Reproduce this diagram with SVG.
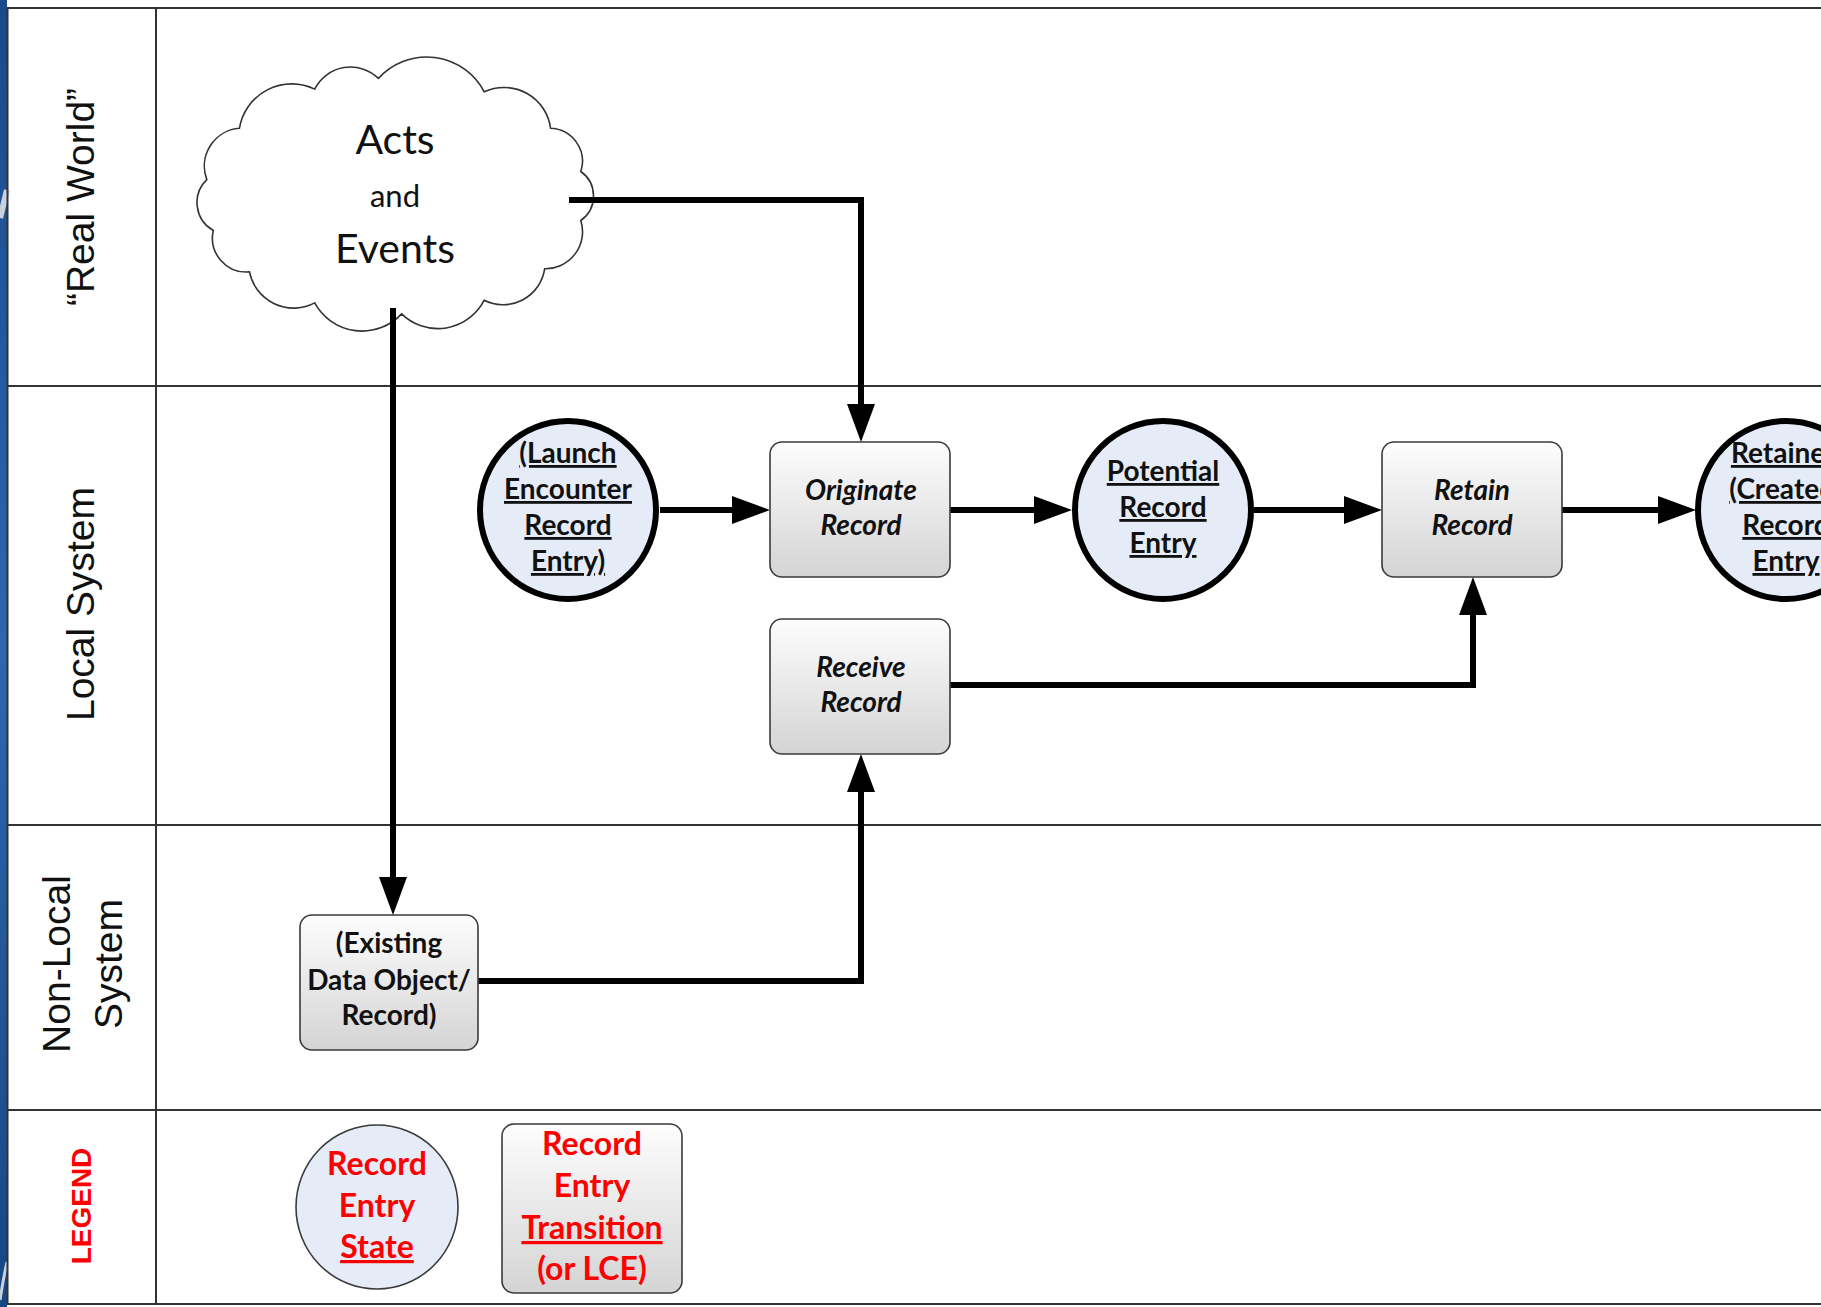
<svg xmlns="http://www.w3.org/2000/svg" width="1821" height="1307" viewBox="0 0 1821 1307">
<style>
.lane{fill:none;stroke:#333;stroke-width:2}
.lbl{font-family:"Liberation Sans",Arial,sans-serif;font-size:39px;fill:#111;text-anchor:middle}
.leg{font-family:"Liberation Sans",Arial,sans-serif;font-size:28px;font-weight:bold;fill:#ff0000;text-anchor:middle}
.box{fill:url(#boxg);stroke:#3a3a3a;stroke-width:1.6}
.st{fill:#e5ecf8;stroke:#000;stroke-width:6}
.t{font-family:Lato,"Open Sans",sans-serif;font-size:28px;font-weight:bold;fill:#111;text-anchor:middle}
.i{font-style:italic}
.u{text-decoration:underline}
.r{font-size:32px;fill:#ff0000}
.cl{font-family:Lato,"Open Sans",sans-serif;fill:#111;text-anchor:middle}
.cn{fill:none;stroke:#000;stroke-width:6;stroke-linejoin:miter}
</style>
<defs>
<linearGradient id="boxg" x1="0" y1="0" x2="0" y2="1">
<stop offset="0" stop-color="#fdfdfd"/>
<stop offset="1" stop-color="#d4d4d4"/>
</linearGradient>
<linearGradient id="blue" x1="0" y1="0" x2="0" y2="1">
<stop offset="0" stop-color="#184a8c"/>
<stop offset="0.5" stop-color="#2f66ad"/>
<stop offset="1" stop-color="#164785"/>
</linearGradient>
<marker id="ah" markerUnits="userSpaceOnUse" markerWidth="40" markerHeight="30" refX="8" refY="14" orient="auto">
<path d="M0,0 L38,14 L0,28 Z" fill="#000"/>
</marker>
</defs>
<rect x="0" y="0" width="1821" height="1307" fill="#fff"/>
<rect x="0" y="0" width="7" height="1307" fill="url(#blue)"/>
<path d="M0,218 L7,190" stroke="#c9d1dc" stroke-width="6"/>
<path d="M0,1300 Q3,1280 7,1262" stroke="#c9d1dc" stroke-width="3" fill="none"/>

<g id="lanes">
<path class="lane" d="M7.5,8 V1304 M7,8 H1821 M7,386 H1821 M7,825 H1821 M7,1110 H1821 M7,1304 H1821 M156,8 V1304"/>
<text class="lbl" transform="translate(94,197) rotate(-90)">“Real World”</text>
<text class="lbl" transform="translate(94,604) rotate(-90)">Local System</text>
<text class="lbl" transform="translate(70,964) rotate(-90)">Non-Local</text>
<text class="lbl" transform="translate(122,964) rotate(-90)">System</text>
<text class="leg" transform="translate(91,1206) rotate(-90)">LEGEND</text>
</g>

<g id="cloud">
<path d="M378.4,78.4 A65,65 0 0 1 484.2,91.8 A47,47 0 0 1 550.6,128.3 A33,33 0 0 1 580.8,171.5 A30,30 0 0 1 580.8,220.5 A37,37 0 0 1 544.7,268.7 A42,42 0 0 1 484.2,300.2 A52,52 0 0 1 401.6,313.9 A54,54 0 0 1 314.7,302.9 A45,45 0 0 1 249.5,271.9 A34,34 0 0 1 213.3,230.5 A32,32 0 0 1 206.8,179.6 A38,38 0 0 1 239.4,128.3 A53,53 0 0 1 314.7,89.1 A40,40 0 0 1 378.4,78.4 Z" fill="#fff" stroke="#333" stroke-width="1.6"/>
<text class="cl" x="395" y="154" font-size="41">Acts</text>
<text class="cl" x="395" y="207" font-size="31">and</text>
<text class="cl" x="395" y="263" font-size="41">Events</text>
</g>

<g id="connectors">
<path class="cn" d="M569,200 H861 V412" marker-end="url(#ah)"/>
<path class="cn" d="M393,308 V885" marker-end="url(#ah)"/>
<path class="cn" d="M660,510 H740" marker-end="url(#ah)"/>
<path class="cn" d="M950,510 H1042" marker-end="url(#ah)"/>
<path class="cn" d="M1254,510 H1352" marker-end="url(#ah)"/>
<path class="cn" d="M1562,510 H1666" marker-end="url(#ah)"/>
<path class="cn" d="M950,685 H1473 V607" marker-end="url(#ah)"/>
<path class="cn" d="M478,981 H861 V784" marker-end="url(#ah)"/>
</g>

<g id="launch">
<ellipse class="st" cx="568" cy="510" rx="88" ry="89"/>
<text class="t u" x="568" y="463">(Launch</text>
<text class="t u" x="568" y="499">Encounter</text>
<text class="t u" x="568" y="535">Record</text>
<text class="t u" x="568" y="571">Entry)</text>
</g>

<g id="originate">
<rect class="box" x="770" y="442" width="180" height="135" rx="12"/>
<text class="t i" x="861" y="500">Originate</text>
<text class="t i" x="861" y="535">Record</text>
</g>

<g id="potential">
<ellipse class="st" cx="1163" cy="510" rx="88" ry="89"/>
<text class="t u" x="1163" y="481">Potential</text>
<text class="t u" x="1163" y="517">Record</text>
<text class="t u" x="1163" y="553">Entry</text>
</g>

<g id="retain">
<rect class="box" x="1382" y="442" width="180" height="135" rx="12"/>
<text class="t i" x="1472" y="500">Retain</text>
<text class="t i" x="1472" y="535">Record</text>
</g>

<g id="retained">
<ellipse class="st" cx="1786" cy="510" rx="88" ry="89"/>
<text class="t u" x="1786" y="463">Retained</text>
<text class="t u" x="1786" y="499">(Created)</text>
<text class="t u" x="1786" y="535">Record</text>
<text class="t u" x="1786" y="571">Entry</text>
</g>

<g id="receive">
<rect class="box" x="770" y="619" width="180" height="135" rx="12"/>
<text class="t i" x="861" y="677">Receive</text>
<text class="t i" x="861" y="712">Record</text>
</g>

<g id="existing">
<rect class="box" x="300" y="915" width="178" height="135" rx="12"/>
<text class="t" x="389" y="953">(Existing</text>
<text class="t" x="389" y="990">Data Object/</text>
<text class="t" x="389" y="1025">Record)</text>
</g>

<g id="legend-state">
<ellipse cx="377" cy="1207" rx="81" ry="82" fill="#e5ecf8" stroke="#3a3a3a" stroke-width="1.6"/>
<text class="t r" x="377" y="1175">Record</text>
<text class="t r" x="377" y="1217">Entry</text>
<text class="t r u" x="377" y="1258">State</text>
</g>

<g id="legend-transition">
<rect class="box" x="502" y="1124" width="180" height="169" rx="12"/>
<text class="t r" x="592" y="1155">Record</text>
<text class="t r" x="592" y="1197">Entry</text>
<text class="t r u" x="592" y="1239">Transition</text>
<text class="t r" x="592" y="1280">(or LCE)</text>
</g>
</svg>
